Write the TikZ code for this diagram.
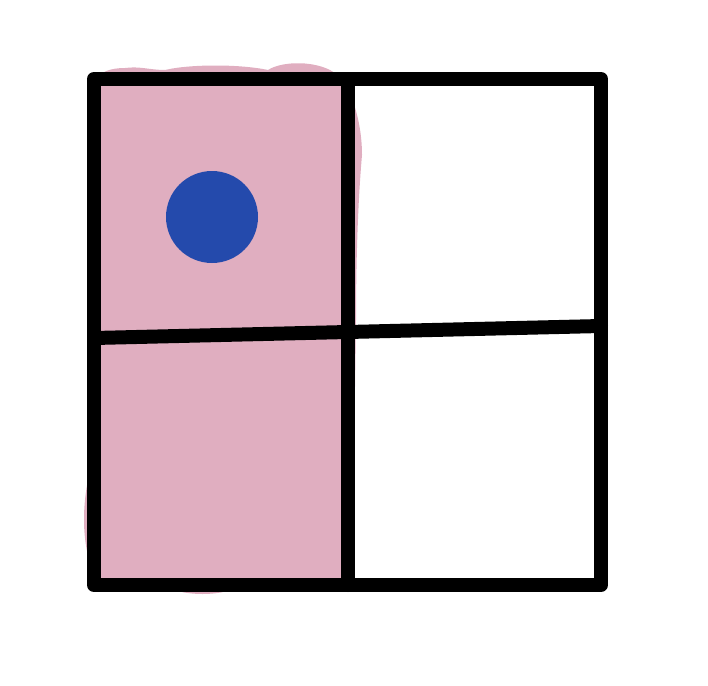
\documentclass[tikz,border=0pt]{standalone}
\definecolor{blobpink}{HTML}{E0AEC0}
\definecolor{dotblue}{HTML}{244AAC}
\begin{document}
\begin{tikzpicture}[x=1pt,y=-1pt,
  gridline/.style={line width=14pt,line cap=round,line join=round,draw=black}]
\useasboundingbox (0,0) rectangle (708,685);
% pink blob
\fill[blobpink] (96,80) .. controls (100,72) and (110,68) .. (125,68)
  .. controls (140,66) and (150,70) .. (165,70)
  .. controls (190,64) and (240,64) .. (268,70)
  .. controls (280,62) and (310,60) .. (330,70)
  .. controls (350,80) and (362,120) .. (362,155)
  .. controls (358,200) and (356,260) .. (356,320)
  -- (352,585)
  -- (235,588) .. controls (220,596) and (185,596) .. (170,588)
  -- (100,585)
  .. controls (84,560) and (80,520) .. (88,480)
  -- (96,400) -- cycle;
% blue dot
\fill[dotblue] (212,217) circle[radius=46];
% grid
\coordinate (tl) at (94,79);
\coordinate (tr) at (601,79);
\coordinate (br) at (601,585);
\coordinate (bl) at (94,585);
\coordinate (tm) at (348,79);
\coordinate (bm) at (348,585);
\coordinate (ml) at (94,338);
\coordinate (mr) at (601,326);
\draw[gridline] (tl) -- (tr) -- (br) -- (bl) -- cycle;
\draw[gridline] (tm) -- (bm);
\draw[gridline] (ml) -- (mr);
\end{tikzpicture}
\end{document}
